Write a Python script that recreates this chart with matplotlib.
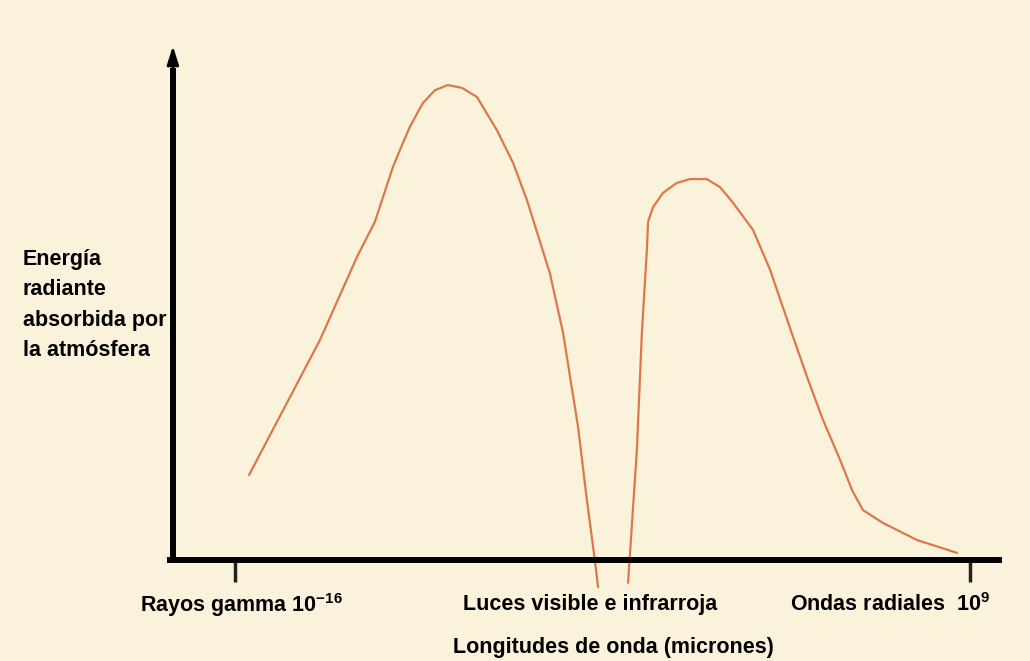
import matplotlib.pyplot as plt

plt.rcParams["font.family"] = ["Liberation Sans", "DejaVu Sans"]
plt.rcParams["mathtext.fontset"] = "custom"
plt.rcParams["mathtext.rm"] = "Liberation Sans:bold"
plt.rcParams["mathtext.it"] = "Liberation Sans:bold"
plt.rcParams["mathtext.bf"] = "Liberation Sans:bold"

# x = log10 of wavelength (microns), y = relative absorbed energy
x_short = [-15.52, -13.11, -11.85, -11.24, -10.63, -10.39, -10.05, -9.61,
           -9.20, -8.76, -8.28, -7.77, -7.09, -6.54, -6.07, -5.29, -4.84,
           -4.33, -4.03, -3.76, -3.65]
y_short = [17.9, 46.3, 63.8, 71.2, 82.7, 86.3, 91.2, 96.2,
           98.9, 100.0, 99.4, 97.5, 90.5, 83.6, 75.8, 60.4, 47.8,
           28.0, 12.6, 0.0, -5.7]

x_long = [-2.63, -2.33, -2.16, -1.99, -1.95, -1.78, -1.44, -0.97, -0.52,
          0.05, 0.50, 0.94, 1.62, 2.20, 2.88, 3.46, 4.00, 4.58, 4.99,
          5.36, 6.04, 7.20, 8.56]
y_long = [-4.8, 23.2, 47.8, 65.3, 71.2, 74.3, 77.3, 79.4, 80.2,
          80.2, 78.5, 75.2, 69.5, 61.1, 48.8, 38.5, 29.5, 21.1, 14.7,
          10.5, 7.8, 4.2, 1.5]

tick_pos = [-16, 9]
y_axis_at = -18.11

bg = "#FBF2DC"
curve_col = "#DC784A"

fig = plt.figure(figsize=(10.3, 6.61), dpi=100, facecolor=bg)
ax = fig.add_axes([0, 0, 1, 1], facecolor=bg)
ax.set_xlim(-23.99, 11.04)
ax.set_ylim(-21.26, 117.9)

ax.plot(x_short, y_short, color=curve_col, lw=1.6,
        solid_capstyle="round", solid_joinstyle="round")
ax.plot(x_long, y_long, color=curve_col, lw=1.6,
        solid_capstyle="round", solid_joinstyle="round")

# axes drawn as spines
for s in ["top", "right"]:
    ax.spines[s].set_visible(False)
ax.spines["left"].set_position(("data", y_axis_at))
ax.spines["bottom"].set_position(("data", 0))
ax.spines["left"].set_bounds(0, 103)
ax.spines["bottom"].set_bounds(y_axis_at - 0.1, 10.0)
for s in ["left", "bottom"]:
    ax.spines[s].set_linewidth(4.3)
    ax.spines[s].set_color("black")
ax.annotate("", xy=(y_axis_at, 108.2), xytext=(y_axis_at, 101),
            arrowprops=dict(arrowstyle="-|>,head_length=1.1,head_width=0.35",
                            color="black", lw=2, shrinkA=0, shrinkB=0))

ax.set_xticks(tick_pos)
ax.set_yticks([])
ax.tick_params(axis="x", direction="out", length=16, width=2.5,
               color="#222222", labelbottom=False)

fs = 15.5
ax.text(0.234, 0.085, "Rayos gamma 10$^{-16}$", transform=ax.transAxes,
        ha="center", va="center", fontsize=fs, fontweight="bold")
ax.text(0.573, 0.085, "Luces visible e infrarroja", transform=ax.transAxes,
        ha="center", va="center", fontsize=fs, fontweight="bold")
ax.text(0.864, 0.085, "Ondas radiales  10$^{9}$", transform=ax.transAxes,
        ha="center", va="center", fontsize=fs, fontweight="bold")
ax.text(0.596, 0.02, "Longitudes de onda (micrones)", transform=ax.transAxes,
        ha="center", va="center", fontsize=fs, fontweight="bold")
ax.text(0.022, 0.624, "Energía\nradiante\nabsorbida por\nla atmósfera",
        transform=ax.transAxes, ha="left", va="top", fontsize=fs,
        fontweight="bold", linespacing=1.6)

plt.savefig("out.png", dpi=100, facecolor=bg)
